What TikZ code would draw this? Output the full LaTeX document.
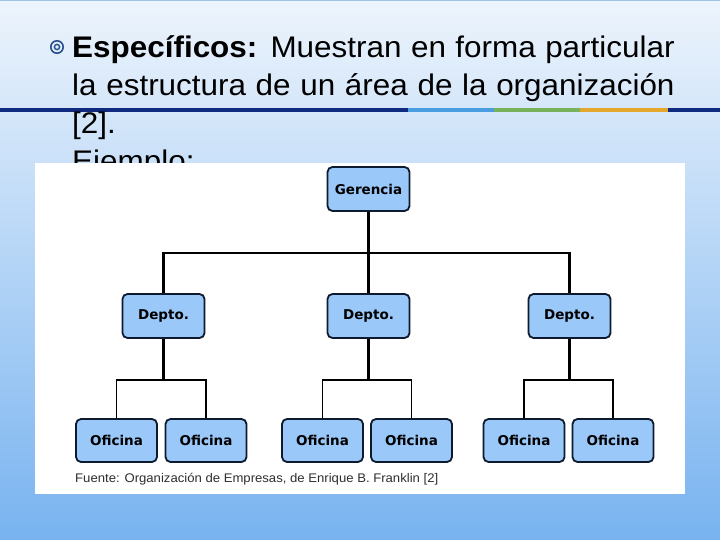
\documentclass[tikz,border=0pt]{standalone}
\usepackage{fontspec}
\setmainfont{Liberation Sans}
\newfontfamily\chartfont{DejaVu Sans}
\usetikzlibrary{positioning,calc}

\definecolor{slidetop}{HTML}{EDF4FC}
\definecolor{slidebottom}{HTML}{78B3F0}
\definecolor{slideedge}{HTML}{9EC2E6}
\definecolor{barnavy}{HTML}{0F2A7E}
\definecolor{barblue}{HTML}{4A9DE0}
\definecolor{bargreen}{HTML}{78B35C}
\definecolor{barorange}{HTML}{E2A72C}
\definecolor{boxfill}{HTML}{99C8F9}
\definecolor{boxline}{HTML}{0E1A2E}
\definecolor{bulletblue}{HTML}{27508F}
\definecolor{captiongray}{HTML}{2E2E2E}

\tikzset{
  orgbox/.style={draw=boxline, fill=boxfill, line width=1.8pt, rounded corners=5pt,
    minimum width=81pt, minimum height=44pt, inner sep=0pt,
    font=\chartfont\bfseries\fontsize{13.5}{16}\selectfont},
  slidetext/.style={anchor=base west, inner sep=0pt, font=\fontsize{29.8}{36}\selectfont},
  upperline/.style={line width=2.1pt},
  lowerline/.style={line width=1.5pt}
}

\begin{document}
\begin{tikzpicture}[x=1pt, y=-1pt]
% Slide background
\shade[top color=slidetop, bottom color=slidebottom] (0,0) rectangle (720,540);
\useasboundingbox (0,0) rectangle (720,540);
\draw[slideedge, line width=1.5pt] (0,0.75) -- (720,0.75);
% Title bar
\fill[barnavy] (0,108) rectangle (408,112);
\fill[barblue] (408,108) rectangle (494,112);
\fill[bargreen] (494,108) rectangle (580,112);
\fill[barorange] (580,108) rectangle (668,112);
\fill[barnavy] (668,108) rectangle (720,112);
% Bullet
\draw[bulletblue, line width=1.6pt] (57,47) circle[radius=6.2pt];
\draw[bulletblue, line width=1.4pt] (57,47) circle[radius=2.6pt];
% Bullet text
\node[slidetext] (line1) at (72,58) {\scalebox{1.055}[1]{\makebox[571pt][s]{\textbf{Específicos:} Muestran en forma particular}}};
\node[slidetext] (line2) at (72,96) {\scalebox{1.055}[1]{\makebox[571pt][s]{la estructura de un área de la organización}}};
\node[slidetext] (line3) at (72,134) {\scalebox{1.055}[1]{[2].}};
\node[slidetext] (line4) at (72,172) {\scalebox{1.055}[1]{Ejemplo:}};
% Picture of the chart
\fill[white] (35,163) rectangle (685,494);
\node[orgbox, minimum width=82pt] (ger) at (368.5,189) {Gerencia};
\node[orgbox, minimum width=82pt] (dep1) at (163.5,316) {Depto.};
\node[orgbox, minimum width=82pt] (dep2) at (368.5,316) {Depto.};
\node[orgbox, minimum width=82pt] (dep3) at (569.5,316) {Depto.};
\node[orgbox, minimum height=43pt] (of1) at (116.5,440.5) {Oficina};
\node[orgbox, minimum height=43pt] (of2) at (206,440.5) {Oficina};
\node[orgbox, minimum height=43pt] (of3) at (322.5,440.5) {Oficina};
\node[orgbox, minimum height=43pt] (of4) at (411.5,440.5) {Oficina};
\node[orgbox, minimum height=43pt] (of5) at (524,440.5) {Oficina};
\node[orgbox, minimum height=43pt] (of6) at (613,440.5) {Oficina};
% Connectors
\coordinate (hub) at (368.5,253);
\draw[upperline] (ger) -- (dep2);
\draw[upperline] (dep1.north) |- (hub) -| (dep3.north);
\foreach \dep/\ofa/\ofb in {dep1/of1/of2, dep2/of3/of4, dep3/of5/of6} {
  \coordinate (\dep-join) at ($(\dep.south)+(0,41)$);
  \draw[upperline] (\dep.south) -- (\dep-join);
  \draw[lowerline] (\ofa.north) |- (\dep-join) -| (\ofb.north);
}
% Source
\node[anchor=west, inner sep=0pt, text=captiongray, font=\fontsize{12.5}{15}\selectfont] (fuente) at (75,479)
  {\scalebox{1.05}[1]{Fuente: Organización de Empresas, de Enrique B. Franklin [2]}};
\end{tikzpicture}
\end{document}
